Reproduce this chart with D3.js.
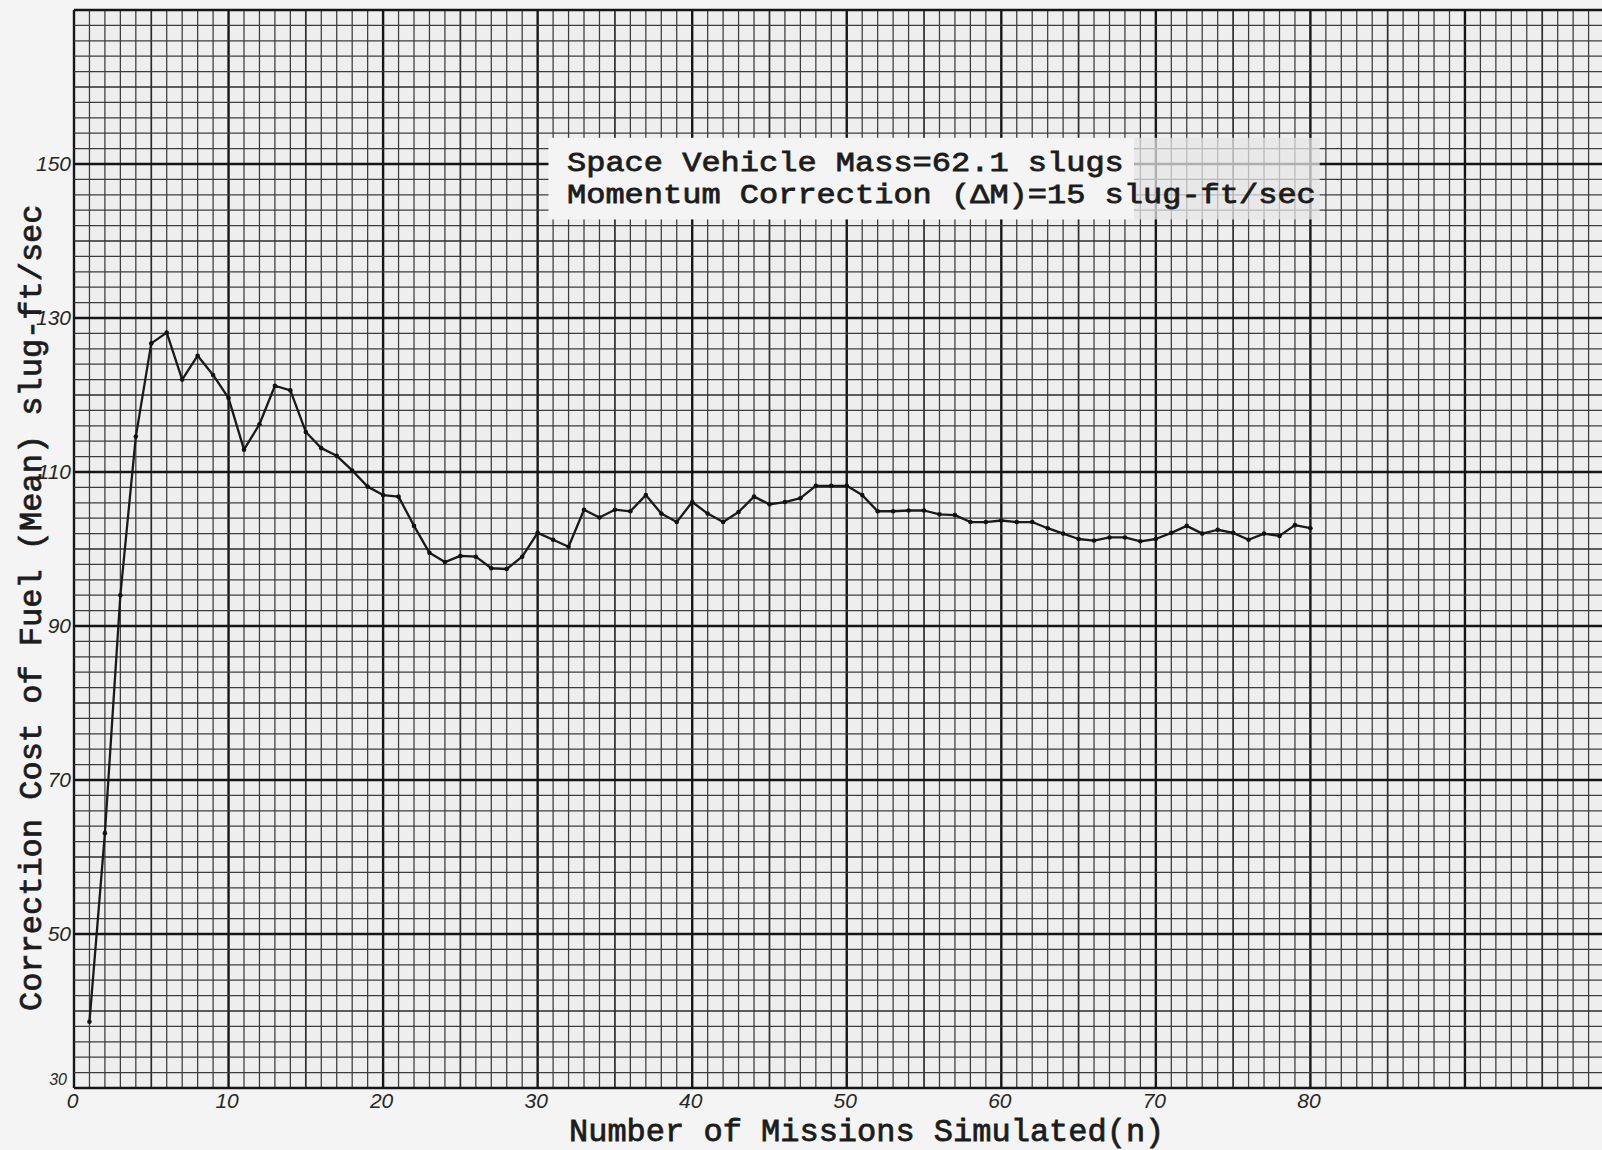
<!DOCTYPE html>
<html>
<head>
<meta charset="utf-8">
<script src="https://cdn.jsdelivr.net/npm/d3@7"></script>
<style>
  html, body { margin: 0; padding: 0; background: #f4f4f4; }
  svg { display: block; }
  .type {
    font-family: "Liberation Mono", "Courier New", monospace;
    font-size: 32px;
    fill: #1c1c1c;
    stroke: #1c1c1c;
    stroke-width: 0.8px;
  }
  .note { font-size: 28px; }
  .hand {
    font-family: "Liberation Sans", Arial, sans-serif;
    font-style: italic;
    font-size: 21px;
    fill: #262626;
  }
</style>
</head>
<body>
<svg id="chart" width="1602" height="1150"></svg>
<script>
// Mission index (n) and the running mean correction cost after n missions
const missions = d3.range(1, 81);
const meanCost = [
  38.6, 63.1, 94.0, 114.6, 126.7, 128.1, 122.0, 125.1, 122.6, 119.6,
  112.9, 116.2, 121.2, 120.6, 115.2, 113.1, 112.1, 110.2, 108.1, 107.0,
  106.8, 103.0, 99.5, 98.3, 99.1, 99.0, 97.5, 97.4, 99.0, 102.1,
  101.2, 100.3, 105.1, 104.1, 105.1, 104.9, 107.0, 104.6, 103.5, 106.1,
  104.6, 103.5, 104.8, 106.8, 105.8, 106.1, 106.6, 108.2, 108.2, 108.2,
  107.0, 104.9, 104.9, 105.0, 105.0, 104.5, 104.4, 103.5, 103.5, 103.7,
  103.5, 103.5, 102.7, 102.0, 101.3, 101.1, 101.5, 101.5, 101.0, 101.3,
  102.1, 103.0, 102.0, 102.5, 102.1, 101.2, 102.0, 101.7, 103.1, 102.7
];
const xTickValues = [0, 10, 20, 30, 40, 50, 60, 70, 80];
const yTickValues = [30, 50, 70, 90, 110, 130, 150];
const annotationLines = [
  "Space Vehicle Mass=62.1 slugs",
  "Momentum Correction (\u0394M)=15 slug-ft/sec"
];
const xTitle = "Number of Missions Simulated(n)";
const yTitle = "Correction Cost of Fuel (Mean) slug-ft/sec";

const svg = d3.select("#chart");

// Graph-paper coordinate system: 1 unit per column, 2 units per row
const x = d3.scaleLinear().domain([0, 100]).range([74, 1619.5]);
const y = d3.scaleLinear().domain([30, 170]).range([1088, 10]);

// paper
svg.append("rect").attr("width", 1602).attr("height", 1150).attr("fill", "#f4f4f4");
svg.append("rect")
  .attr("x", x(0)).attr("y", y(170))
  .attr("width", x(100) - x(0)).attr("height", y(30) - y(170))
  .attr("fill", "#eeeeee");

// grid rulings
const colVals = d3.range(0, 101, 1);
const rowVals = d3.range(30, 171, 2);
function weightX(v) { return v % 10 === 0 ? "major" : (v % 5 === 0 ? "mid" : "minor"); }
function weightY(v) { return (v - 30) % 20 === 0 ? "major" : ((v - 30) % 10 === 0 ? "mid" : "minor"); }
const strokeW = { minor: 1.25, mid: 1.7, major: 2.4 };
const strokeC = { minor: "#3c3c3c", mid: "#2c2c2c", major: "#161616" };

const grid = svg.append("g").attr("class", "grid");
grid.selectAll("line.col").data(colVals).join("line")
  .attr("class", "col")
  .attr("x1", d => x(d)).attr("x2", d => x(d))
  .attr("y1", y(170)).attr("y2", y(30))
  .attr("stroke", d => strokeC[weightX(d)])
  .attr("stroke-width", d => strokeW[weightX(d)]);
grid.selectAll("line.row").data(rowVals).join("line")
  .attr("class", "row")
  .attr("x1", x(0)).attr("x2", x(100))
  .attr("y1", d => y(d)).attr("y2", d => y(d))
  .attr("stroke", d => strokeC[weightY(d)])
  .attr("stroke-width", d => strokeW[weightY(d)]);

// pasted label strip with a rubbed, partly erased right end
svg.append("rect")
  .attr("x", x(30.7)).attr("y", y(153.4))
  .attr("width", x(68.6) - x(30.7)).attr("height", y(142.8) - y(153.4))
  .attr("fill", "#f4f4f4");
svg.append("rect")
  .attr("x", x(68.6)).attr("y", y(153.4))
  .attr("width", x(80.6) - x(68.6)).attr("height", y(142.8) - y(153.4))
  .attr("fill", "#e6e6e6").attr("opacity", 0.74);

// typed note, each line stretched to the typewriter pitch (19.2 px per character)
annotationLines.forEach((t, i) => {
  svg.append("text").attr("class", "type note")
    .attr("x", 567).attr("y", 171 + i * 32)
    .attr("textLength", t.length * 19.2)
    .attr("lengthAdjust", "spacingAndGlyphs")
    .text(t);
});

// axes (labels only, rulings come from the paper)
const xAxis = d3.axisBottom(x).tickValues(xTickValues).tickSize(0).tickPadding(5);
const gx = svg.append("g").attr("transform", `translate(0,${y(30)})`).call(xAxis);
gx.select(".domain").remove();
gx.selectAll("text").attr("class", "hand").attr("dx", -2);
gx.attr("font-family", null).attr("font-size", null);

const yAxis = d3.axisLeft(y).tickValues(yTickValues).tickSize(0).tickPadding(3);
const gy = svg.append("g").attr("transform", `translate(${x(0)},0)`).call(yAxis);
gy.select(".domain").remove();
gy.selectAll("text").attr("class", "hand");
gy.attr("font-family", null).attr("font-size", null);
// the corner value is squeezed in above the origin
gy.selectAll(".tick").filter(d => d === 30).select("text")
  .attr("dy", "-0.25em").attr("dx", -4).style("font-size", "16px");

// the data curve
const pts = missions.map((n, i) => ({ n, v: meanCost[i] }));
const line = d3.line().x(d => x(d.n)).y(d => y(d.v));
svg.append("path").datum(pts)
  .attr("d", line)
  .attr("fill", "none")
  .attr("stroke", "#1a1a1a")
  .attr("stroke-width", 2.3)
  .attr("stroke-linejoin", "round");
svg.append("g").selectAll("circle").data(pts).join("circle")
  .attr("cx", d => x(d.n)).attr("cy", d => y(d.v))
  .attr("r", 2.3).attr("fill", "#111");

// axis titles
svg.append("text").attr("class", "type")
  .attr("x", 569).attr("y", 1141)
  .text(xTitle);
svg.append("text").attr("class", "type")
  .attr("transform", "translate(41,1011) rotate(-90)")
  .text(yTitle);
</script>
</body>
</html>
